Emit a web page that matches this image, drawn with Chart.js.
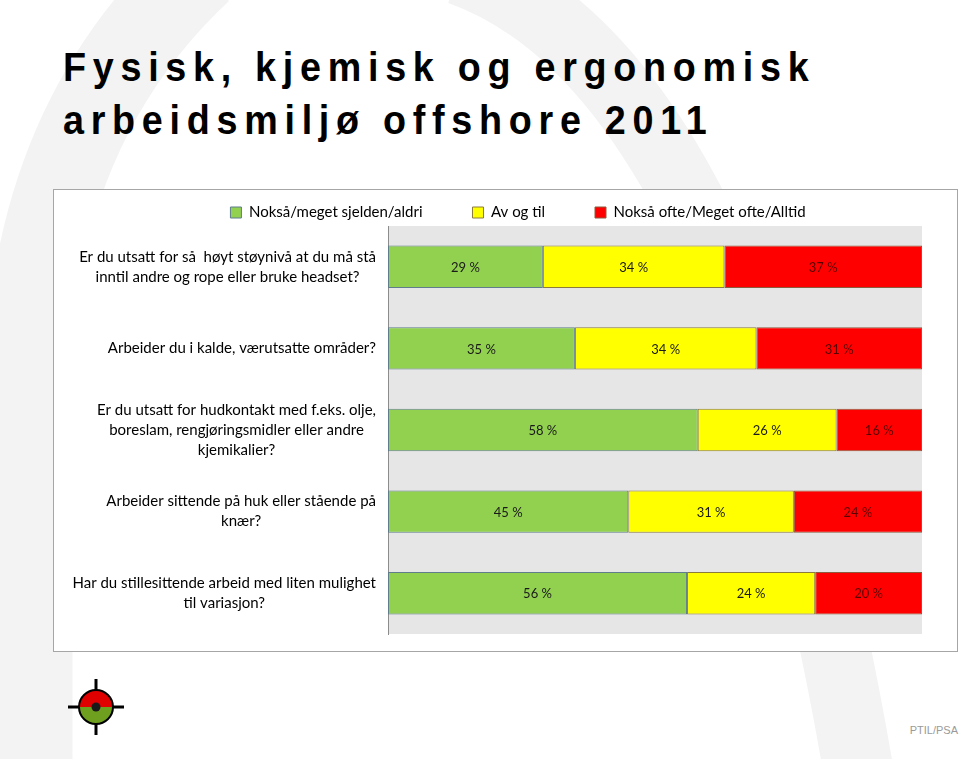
<!DOCTYPE html>
<html>
<head>
<meta charset="utf-8">
<script src="https://cdn.jsdelivr.net/npm/chart.js@4.4.0/dist/chart.umd.min.js"></script>
<style>
  body { margin: 0; width: 960px; height: 759px; position: relative; overflow: hidden; background: #fff; }
  #bg { position: absolute; left: 0; top: 0; }
  h1 { position: absolute; left: 63px; top: 41px; margin: 0; font: bold 41px 'Liberation Sans', Arial, sans-serif;
       letter-spacing: 7.3px; line-height: 53px; color: #000; transform: scaleX(0.92); transform-origin: 0 0; white-space: nowrap; }
  #box { position: absolute; left: 53px; top: 189px; width: 903px; height: 461px; border: 1px solid #a6a6a6; background: #fff; }
  #ptil { position: absolute; right: 2px; top: 724px; font: 11px 'Liberation Sans', Arial, sans-serif; color: #9a9a9a; }
  #logo { position: absolute; left: 0; top: 0; }
</style>
</head>
<body>
<svg id="bg" width="960" height="759">
  <path d="M 200 -30 Q 50 110 30 330 L 30 780" fill="none" stroke="#f3f3f3" stroke-width="85"/>
  <path d="M 460 -30 Q 740 70 860 780" fill="none" stroke="#f3f3f3" stroke-width="70"/>
</svg>
<h1>Fysisk, kjemisk og ergonomisk<br>arbeidsmiljø offshore 2011</h1>
<div id="box"><canvas id="myChart" width="903" height="461"></canvas></div>
<svg id="logo" width="200" height="759">
  <line x1="68" y1="707" x2="124" y2="707" stroke="#000" stroke-width="3"/>
  <line x1="96" y1="679" x2="96" y2="735" stroke="#000" stroke-width="3"/>
  <path d="M 79 707 A 17 17 0 0 1 113 707 Z" fill="#e00000"/>
  <path d="M 79 707 A 17 17 0 0 0 113 707 Z" fill="#6f9f1e"/>
  <circle cx="96" cy="707" r="17" fill="none" stroke="#000" stroke-width="2"/>
  <circle cx="96" cy="707" r="4.5" fill="#1a1a1a"/>
</svg>
<div id="ptil">PTIL/PSA</div>
<script>
const questions = [
    ['Er du utsatt for så  høyt støynivå at du må stå', 'inntil andre og rope eller bruke headset?'],
    ['Arbeider du i kalde, værutsatte områder?'],
    ['Er du utsatt for hudkontakt med f.eks. olje,', 'boreslam, rengjøringsmidler eller andre', 'kjemikalier?'],
    ['Arbeider sittende på huk eller stående på', 'knær?'],
    ['Har du stillesittende arbeid med liten mulighet', 'til variasjon?']
];
const seriesNames = ['Nokså/meget sjelden/aldri', 'Av og til', 'Nokså ofte/Meget ofte/Alltid'];
const seldenValues = [29, 35, 58, 45, 56];
const avOgTilValues = [34, 34, 26, 31, 24];
const ofteValues = [37, 31, 16, 24, 20];

const fillColors = ['#92D050', '#FFFF00', '#FF0000'];
const edgeColors = ['#5f7d8c', '#8c7a3c', '#8c5a3c'];
const valueColors = ['#1a1a1a', '#1a1a1a', '#5a0000'];

let myChart

const plotBackground = {
    id: 'plotBackground',
    afterLayout(chart) {
        // nudge the legend row down a little, chart area stays put
        chart.legend.top += 4;
        chart.legend.bottom += 4;
    },
    beforeDraw(chart) {
        const a = chart.chartArea;
        const ctx = chart.ctx;
        ctx.save();
        ctx.fillStyle = '#e6e6e6';
        ctx.fillRect(a.left, a.top, a.right - a.left, a.bottom - a.top);
        ctx.restore();
    }
};

// value labels in the middle of each segment
const barLabels = {
    id: 'barLabels',
    afterDatasetsDraw(chart) {
        const ctx = chart.ctx;
        ctx.save();
        ctx.font = '13px Lato';
        ctx.textAlign = 'center';
        ctx.textBaseline = 'middle';
        chart.data.datasets.forEach((ds, i) => {
            chart.getDatasetMeta(i).data.forEach((bar, j) => {
                const c = bar.getCenterPoint();
                ctx.fillStyle = valueColors[i];
                ctx.fillText(ds.data[j] + ' %', c.x, c.y + 1);
            });
        });
        ctx.restore();
    }
};

// question text, centred as a block and pushed against the axis
const questionLabels = {
    id: 'questionLabels',
    afterDraw(chart) {
        const ctx = chart.ctx;
        const yScale = chart.scales.y;
        const right = chart.chartArea.left - 12;
        ctx.save();
        ctx.font = '15px Lato';
        ctx.fillStyle = '#000';
        ctx.textAlign = 'center';
        ctx.textBaseline = 'middle';
        questions.forEach((lines, i) => {
            const w = Math.max(...lines.map(l => ctx.measureText(l).width));
            const cx = right - w / 2;
            const cy = yScale.getPixelForValue(i);
            lines.forEach((l, k) => {
                ctx.fillText(l, cx, cy + (k - (lines.length - 1) / 2) * 20);
            });
        });
        ctx.restore();
    }
};

function ChartStablet() {
    const ctx = document.getElementById('myChart');
    const values = [seldenValues, avOgTilValues, ofteValues];
    myChart = new Chart(ctx, {
        type: 'bar',
        data: {
            labels: questions.map(q => q.join(' ')),
            datasets: seriesNames.map((name, i) => ({
                label: name,
                data: values[i],
                backgroundColor: fillColors[i],
                borderColor: edgeColors[i],
                borderWidth: 1,
                borderSkipped: false,
                barPercentage: 0.52,
                categoryPercentage: 1
            }))
        },
        options: {
            indexAxis: 'y',
            responsive: false,
            animation: false,
            layout: {
                padding: { left: 60, right: 35, top: -39, bottom: 17 }
            },
            plugins: {
                legend: {
                    position: 'top',
                    labels: {
                        boxWidth: 11,
                        boxHeight: 11,
                        padding: 50,
                        color: '#000',
                        font: { family: 'Lato', size: 15 }
                    }
                },
                tooltip: { enabled: false }
            },
            scales: {
                x: {
                    stacked: true,
                    min: 0,
                    max: 100,
                    display: false
                },
                y: {
                    stacked: true,
                    grid: { display: false },
                    border: { display: true, color: '#8c8c8c' },
                    ticks: { display: false },
                    afterFit(scale) {
                        scale.width = 274;
                    }
                }
            }
        },
        plugins: [plotBackground, barLabels, questionLabels]
    });
}

ChartStablet();
</script>
</body>
</html>
